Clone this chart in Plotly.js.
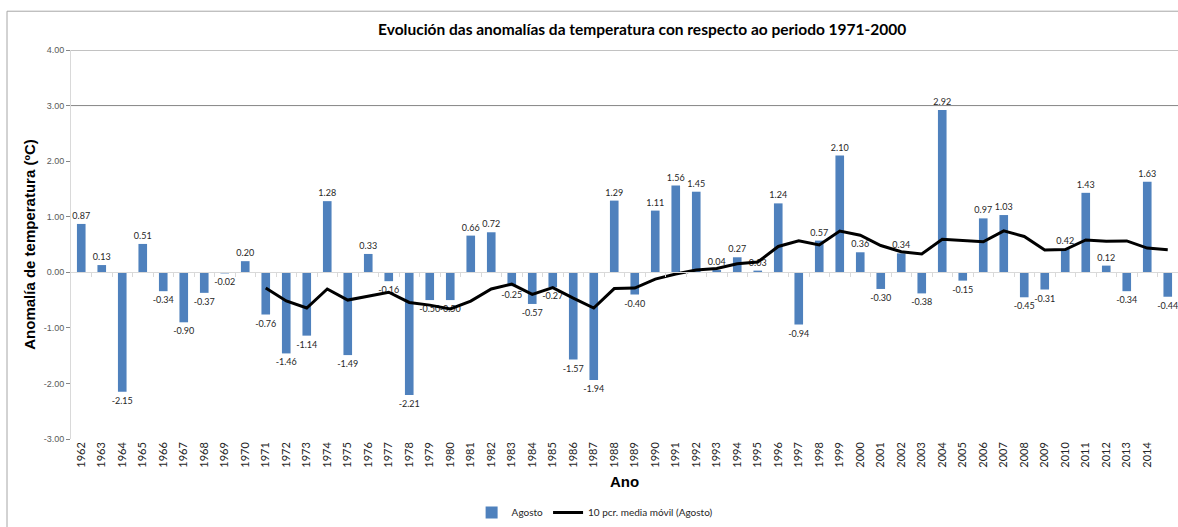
<!DOCTYPE html>
<html>
<head>
<meta charset="utf-8">
<script src="https://cdn.plot.ly/plotly-3.0.1.min.js"></script>
<style>html,body{margin:0;padding:0;background:#fff}#chart{width:1178px;height:527px}</style>
</head>
<body>
<div id="chart"></div>
<script>
const years = [1962,1963,1964,1965,1966,1967,1968,1969,1970,1971,1972,1973,1974,1975,1976,1977,1978,1979,1980,1981,1982,1983,1984,1985,1986,1987,1988,1989,1990,1991,1992,1993,1994,1995,1996,1997,1998,1999,2000,2001,2002,2003,2004,2005,2006,2007,2008,2009,2010,2011,2012,2013,2014,2015];
const agosto = [0.87,0.13,-2.15,0.51,-0.34,-0.90,-0.37,-0.02,0.20,-0.76,-1.46,-1.14,1.28,-1.49,0.33,-0.16,-2.21,-0.50,-0.50,0.66,0.72,-0.25,-0.57,-0.27,-1.57,-1.94,1.29,-0.40,1.11,1.56,1.45,0.04,0.27,0.03,1.24,-0.94,0.57,2.10,0.36,-0.30,0.34,-0.38,2.92,-0.15,0.97,1.03,-0.45,-0.31,0.42,1.43,0.12,-0.34,1.63,-0.44];
const mediaYears = [1971,1972,1973,1974,1975,1976,1977,1978,1979,1980,1981,1982,1983,1984,1985,1986,1987,1988,1989,1990,1991,1992,1993,1994,1995,1996,1997,1998,1999,2000,2001,2002,2003,2004,2005,2006,2007,2008,2009,2010,2011,2012,2013,2014,2015];
const mediaMovil = [-0.283,-0.516,-0.643,-0.300,-0.500,-0.433,-0.359,-0.543,-0.591,-0.661,-0.519,-0.301,-0.212,-0.397,-0.275,-0.465,-0.643,-0.293,-0.283,-0.122,-0.032,0.041,0.070,0.154,0.184,0.465,0.565,0.493,0.743,0.668,0.482,0.371,0.329,0.594,0.576,0.549,0.746,0.644,0.403,0.409,0.582,0.560,0.564,0.435,0.406];
const tickLabels = years.map(y => y <= 2014 ? String(y) : '');
const yTicks = [4,3,2,1,0,-1,-2,-3];
const gridLevels = [3,4];
const sepVals = years.map(y => y + 0.5);

const traces = [
  {
    type: 'bar', name: 'Agosto', x: years, y: agosto,
    marker: {color: '#4F81BD'}, width: 0.42,
    text: agosto.map(v => v.toFixed(2)), textposition: 'outside', constraintext: 'none',
    textfont: {family: 'Lato, sans-serif', size: 9, color: '#262626'},
    cliponaxis: false, hoverinfo: 'x+y'
  },
  {
    type: 'scatter', mode: 'lines', name: '10 pcr. media móvil (Agosto)',
    x: mediaYears, y: mediaMovil,
    line: {color: '#000000', width: 3}
  }
];

const shapes = gridLevels.map(g => ({
  type: 'line', xref: 'paper', yref: 'y', x0: 0, x1: 1, y0: g, y1: g,
  line: {color: '#868686', width: 1}, layer: 'below'
}));
shapes.push({type: 'rect', xref: 'paper', yref: 'paper', x0: -0.0578, x1: 1.01, y0: -0.25, y1: 1.0997,
  line: {color: '#A6A6A6', width: 1}, fillcolor: 'rgba(0,0,0,0)', layer: 'below'});

const layout = {
  width: 1178, height: 527,
  margin: {l: 71, r: 0, t: 50, b: 86},
  paper_bgcolor: '#fff', plot_bgcolor: '#fff',
  showlegend: true,
  title: {text: 'Evolución das anomalías da temperatura con respecto ao periodo 1971-2000',
    font: {family: 'Lato, sans-serif', size: 15.5, color: '#000', weight: 'bold'},
    x: 0.516, xref: 'paper', xanchor: 'center', y: 0.944, yanchor: 'middle'},
  xaxis: {
    type: 'linear', range: [1961.5, 2015.5],
    tickvals: years, ticktext: tickLabels, tickangle: -90,
    tickfont: {family: 'Lato, sans-serif', size: 11, color: '#262626'},
    ticks: '', showgrid: false, zeroline: false, showline: false,
    title: {text: 'Ano', font: {family: 'Liberation Sans, Arial, sans-serif', size: 15, color: '#000', weight: 'bold'}, standoff: 9},
    automargin: false
  },
  xaxis2: {
    overlaying: 'x', anchor: 'free', position: 3/7, range: [1961.5, 2015.5],
    tickvals: sepVals, showticklabels: false, ticks: 'outside', ticklen: 4, tickcolor: '#D9D9D9',
    showline: true, linecolor: '#D9D9D9', linewidth: 1, showgrid: false, zeroline: false, side: 'bottom'
  },
  yaxis: {
    range: [-3, 4], tickvals: yTicks, ticktext: yTicks.map(v => v.toFixed(2)),
    tickfont: {family: 'Liberation Sans, Arial, sans-serif', size: 9, color: '#595959'},
    ticks: 'outside', ticklen: 4, tickcolor: '#868686',
    showgrid: false, zeroline: false, showline: true, linecolor: '#D9D9D9',
    title: {text: 'Anomalía de temperatura (ºC)', font: {family: 'Liberation Sans, Arial, sans-serif', size: 15, color: '#000', weight: 'bold'}, standoff: 4},
    automargin: false
  },
  legend: {orientation: 'h', x: 0.473, xanchor: 'center', y: -0.19, yanchor: 'middle',
    font: {family: 'Lato, sans-serif', size: 10, color: '#262626'}, bgcolor: 'rgba(0,0,0,0)'},
  shapes: shapes
};

traces.push({type: 'scatter', x: [], y: [], xaxis: 'x2', showlegend: false, hoverinfo: 'skip'});

Plotly.newPlot('chart', traces, layout, {displayModeBar: false, staticPlot: true});
</script>
</body>
</html>
